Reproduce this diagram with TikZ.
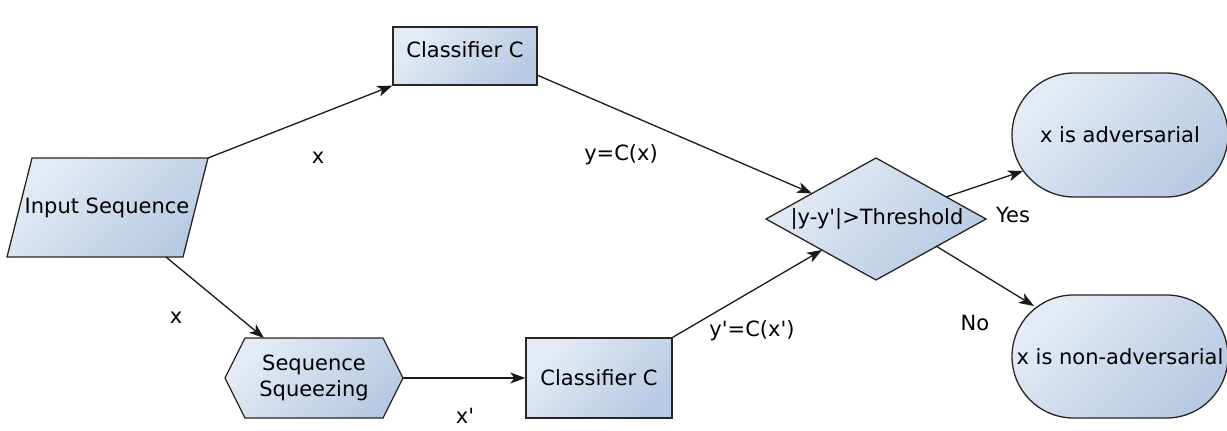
\documentclass[tikz,border=0pt]{standalone}
\usepackage{fontspec}
\setmainfont{DejaVu Sans}
\usetikzlibrary{arrows.meta,shapes.misc}
\definecolor{clight}{HTML}{E4EBF5}
\definecolor{cdark}{HTML}{B8CAE3}
\newcommand{\sq}{\textquotesingle}
\tikzset{
  shapebox/.style={draw=black!85, line width=1.3pt, top color=clight, bottom color=cdark, shading angle=45},
  txt/.style={font=\fontsize{21}{26}\selectfont, inner sep=0pt, align=center},
  conn/.style={draw=black!90, line width=1.3pt, -{Stealth[length=15pt,width=11pt,inset=4pt]}},
}
\begin{document}
\begin{tikzpicture}[x=1pt,y=-1pt]
\useasboundingbox (0,0) rectangle (1227,431);
% input parallelogram
\path[shapebox] (32,158) -- (208,158) -- (183,257) -- (7,257) -- cycle;
\node[txt] (inp) at (107,208) {Input Sequence};
\coordinate (inpTR) at (208,158);
\coordinate (inpB) at (166,257);
% classifier top
\node[shapebox, txt, minimum width=144pt, minimum height=58pt] (ct) at (465,56) {};
\node[txt, anchor=north] (ctl) at (465,41) {Classifier C};
% hexagon
\path[shapebox] (225,378) -- (245,338) -- (383,338) -- (403,378) -- (383,418) -- (245,418) -- cycle;
\node[txt] (hex) at (314,378) {Sequence\\Squeezing};
\coordinate (hexTL) at (264,338);
\coordinate (hexR) at (403,378);
% classifier bottom
\node[shapebox, txt, minimum width=146pt, minimum height=80pt] (cb) at (599,378) {Classifier C};
% diamond
\path[shapebox] (766,219) -- (876,158) -- (986,219) -- (876,280) -- cycle;
\node[txt] (dec) at (877,219) {|y-y\sq|>Threshold};
\coordinate (dUL) at (812,193.5);
\coordinate (dLL) at (822,250);
\coordinate (dUR) at (946,197);
\coordinate (dLR) at (936,246);
% terminals
\node[shapebox, txt, rounded rectangle, minimum width=216pt, minimum height=124pt] (adv) at (1120,135) {x is adversarial};
\node[shapebox, txt, rounded rectangle, minimum width=216pt, minimum height=123pt] (nadv) at (1120,356.5) {x is non-adversarial};
\coordinate (advIn) at (1023,171);
\coordinate (nadvIn) at (1034,306);
\coordinate (ctOut) at (537,75);
% connectors
\draw[conn] (inpTR) -- (ct.south west);
\draw[conn] (ctOut) -- (dUL);
\draw[conn] (inpB) -- (hexTL);
\draw[conn] (hexR) -- (cb.west);
\draw[conn] (cb.north east) -- (dLL);
\draw[conn] (dUR) -- (advIn);
\draw[conn] (dLR) -- (nadvIn);
% labels
\node[txt] (l1) at (318,158) {x};
\node[txt] (l2) at (621,155) {y=C(x)};
\node[txt] (l3) at (176,318) {x};
\node[txt] (l4) at (465,416) {x\sq};
\node[txt] (l5) at (752,331) {y\sq=C(x\sq)};
\node[txt] (l6) at (1013,215) {Yes};
\node[txt] (l7) at (975,323) {No};
\end{tikzpicture}
\end{document}
